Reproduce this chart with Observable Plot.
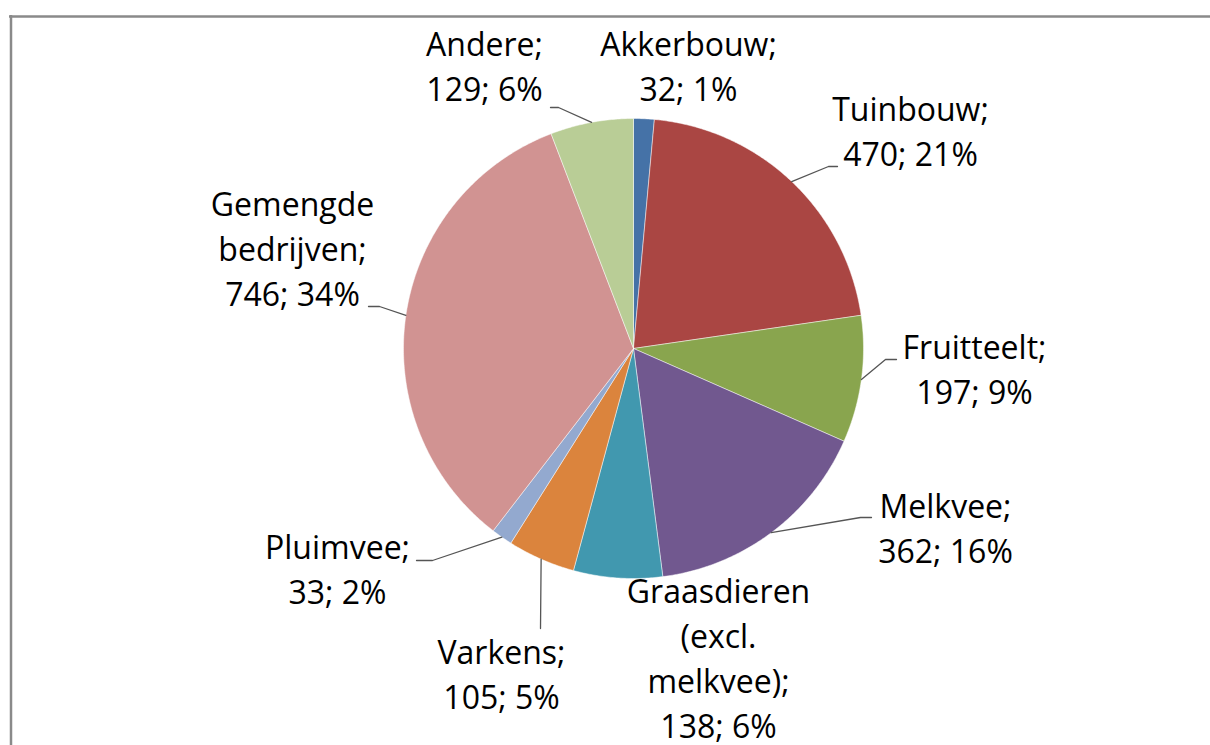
<!DOCTYPE html>
<html>
<head>
<meta charset="utf-8">
<script src="https://cdn.jsdelivr.net/npm/d3@7"></script>
<script src="https://cdn.jsdelivr.net/npm/@observablehq/plot@0.6"></script>
<style>
  html, body { margin: 0; padding: 0; background: #fff; }
  #chart svg { display: block; }
</style>
</head>
<body>
<div id="chart"></div>
<script>
// ---- data ----
const categories = ["Akkerbouw", "Tuinbouw", "Fruitteelt", "Melkvee", "Graasdieren (excl. melkvee)", "Varkens", "Pluimvee", "Gemengde bedrijven", "Andere"];
const values = [32, 470, 197, 362, 138, 105, 33, 746, 129];
const percents = [1, 21, 9, 16, 6, 5, 2, 34, 6];
const colors = ["#4572A7", "#AA4643", "#89A54E", "#71588F", "#4198AF", "#DB843D", "#93A9CF", "#D19392", "#B9CD96"];

// ---- layout (pixel positions in the 1210x745 frame) ----
const W = 1210, H = 745;
const cx = 633, cy = 348, R = 230;
// label line breaks for the category names
const nameLines = [["Akkerbouw;"], ["Tuinbouw;"], ["Fruitteelt;"], ["Melkvee;"], ["Graasdieren", "(excl.", "melkvee);"], ["Varkens;"], ["Pluimvee;"], ["Gemengde", "bedrijven;"], ["Andere;"]];
// label centre x and baseline of first line
const labelX = [688, 910, 974, 945, 718, 501, 337, 292, 484];
const labelY = [55, 120, 358, 517, 602, 663, 558, 215, 55];
const lineStep = 45;
// leader lines: elbow and end point (null = no leader)
const leaders = [null, [[828, 166], [837, 166]], [[885, 359], [896, 359]], [[860, 517], [871, 517]], null, [[540, 628], [540, 628]], [[432, 560], [416, 560]], [[379, 306], [368, 306]], [[558, 107], [550, 107]]];

// ---- derived geometry ----
const arcs = d3.pie().sort(null).value(d => d)(values);
const slicePts = [];
arcs.forEach((a, i) => {
  const name = categories[i];
  slicePts.push({name, x: cx, y: cy});
  const n = Math.max(2, Math.ceil((a.endAngle - a.startAngle) / (Math.PI / 360)));
  for (let k = 0; k <= n; k++) {
    const t = a.startAngle + (a.endAngle - a.startAngle) * k / n;
    slicePts.push({name, x: cx + R * Math.sin(t), y: cy - R * Math.cos(t)});
  }
  slicePts.push({name, x: cx, y: cy});
});

const leaderPts = [];
arcs.forEach((a, i) => {
  if (!leaders[i]) return;
  const m = (a.startAngle + a.endAngle) / 2;
  const name = categories[i];
  leaderPts.push({name, x: cx + R * Math.sin(m), y: cy - R * Math.cos(m)});
  leaderPts.push({name, x: leaders[i][0][0], y: leaders[i][0][1]});
  leaderPts.push({name, x: leaders[i][1][0], y: leaders[i][1][1]});
});

const labelRows = [];
categories.forEach((c, i) => {
  const lines = [...nameLines[i], `${values[i]}; ${percents[i]}%`];
  lines.forEach((t, j) => labelRows.push({text: t, x: labelX[i], y: labelY[i] + j * lineStep}));
});

const frameH = [{x1: 9, x2: W, y: 16}];
const frameV = [{x: 10.5, y1: 15, y2: H}];

const chart = Plot.plot({
  width: W,
  height: H,
  margin: 0,
  x: {domain: [0, W], range: [0, W], axis: null},
  y: {domain: [0, H], range: [0, H], axis: null},
  color: {domain: categories, range: colors},
  style: {fontFamily: "'Open Sans', sans-serif", fontSize: "32px", background: "#fff", color: "#000"},
  marks: [
    Plot.ruleY(frameH, {x1: "x1", x2: "x2", y: "y", stroke: "#8a8a8a", strokeWidth: 2.5}),
    Plot.ruleX(frameV, {x: "x", y1: "y1", y2: "y2", stroke: "#8a8a8a", strokeWidth: 2.5}),
    Plot.line(slicePts, {x: "x", y: "y", z: "name", fill: "name", stroke: "#ffffff", strokeWidth: 0.6, strokeOpacity: 0.8, curve: "linear-closed"}),
    Plot.line(leaderPts, {x: "x", y: "y", z: "name", stroke: "#555555", strokeWidth: 1.3}),
    Plot.text(labelRows, {x: "x", y: "y", text: "text", textAnchor: "middle", lineAnchor: "bottom", fill: "#000", fontSize: 32})
  ]
});
document.getElementById("chart").appendChild(chart);
</script>
</body>
</html>
